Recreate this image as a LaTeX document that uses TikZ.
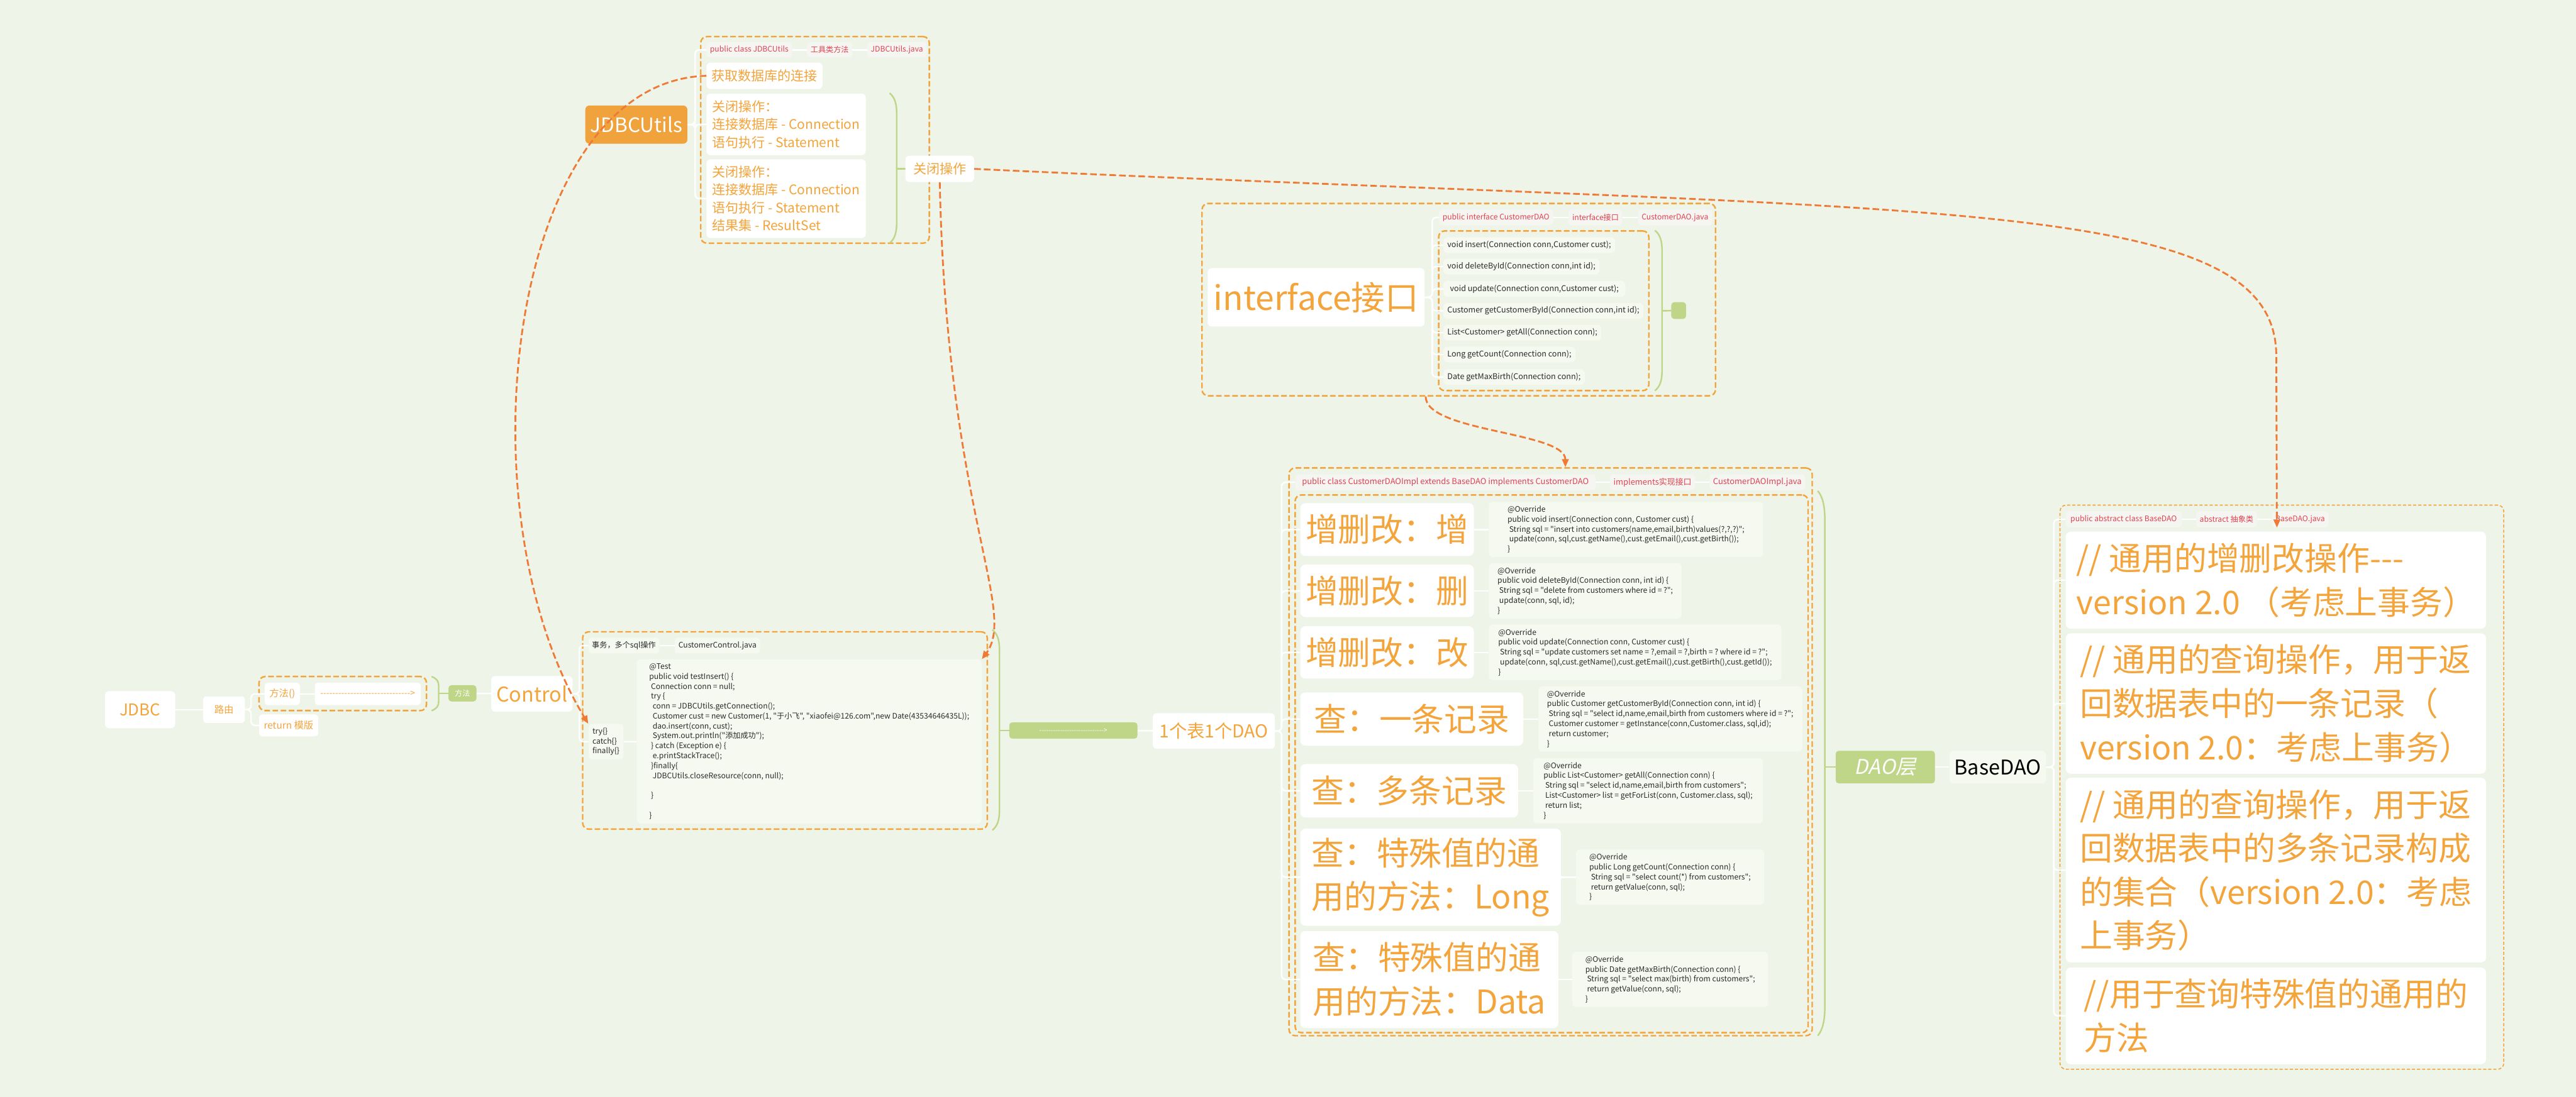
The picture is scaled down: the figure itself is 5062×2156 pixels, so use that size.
\documentclass[tikz,border=0pt]{standalone}
\usepackage{fontspec}
\setmainfont{Noto Sans CJK SC}
\setmonofont{Noto Sans CJK SC}
\newfontfamily\slantfont[FakeSlant=0.2]{Noto Sans CJK SC}
\usepackage{xcolor}
\usepackage{tikz}
\usetikzlibrary{arrows.meta,positioning,fit,backgrounds}

\definecolor{bgcol}{HTML}{EEF4E8}
\definecolor{orangetxt}{HTML}{F3A43B}
\definecolor{orangebox}{HTML}{F0A23C}
\definecolor{relcol}{HTML}{EE7A35}
\definecolor{greencol}{HTML}{BFD587}
\definecolor{labelred}{HTML}{E0424F}
\definecolor{labelfill}{HTML}{F5F5F2}
\definecolor{codefill}{HTML}{F5F9EF}
\definecolor{codetxt}{HTML}{2B2B2B}

\newcommand\fsz[2]{\fontsize{#1}{#2}\selectfont}
\newcommand\dashtxt[1]{\foreach \k in {1,...,#1}{-\kern0pt}>}
\newcommand\sumbracket[4]{%
  \draw[summ] (#1,#2) .. controls (#1+10,#2+0.2*#4) and (#1+14,#2+0.5*#4) .. (#1+14,#2+#4)
    -- (#1+14,#3-#4) .. controls (#1+14,#3-0.5*#4) and (#1+10,#3-0.2*#4) .. (#1,#3);}

\begin{document}
\begin{tikzpicture}[x=1pt, y=-1pt,
  sz/.style 2 args={minimum width=#1pt, minimum height=#2pt},
  topic/.style={anchor=west, align=left, rounded corners=8pt, inner xsep=10pt, inner ysep=3pt, fill=white, text=orangetxt},
  big/.style={topic, font=\fsz{64}{86}, rounded corners=10pt},
  mid/.style={topic, font=\fsz{26}{35}},
  small/.style={topic, font=\fsz{19}{24}, rounded corners=6pt, inner xsep=6pt},
  lbl/.style={topic, fill=labelfill, text=labelred, font=\fsz{15}{19}, rounded corners=6pt, inner xsep=7pt},
  code/.style={topic, fill=codefill, text=codetxt, font=\ttfamily\fsz{15}{19.5}, inner xsep=8pt},
  gtopic/.style={topic, fill=greencol, text=white, rounded corners=6pt},
  grp/.style={draw=orangetxt, line width=3pt, dash pattern=on 11pt off 5pt, rounded corners=12pt, inner sep=0pt},
  br/.style={draw=white, line width=3pt, rounded corners=8pt},
  summ/.style={draw=greencol, line width=3pt},
  rel/.style={draw=relcol, line width=3.5pt, dash pattern=on 13pt off 6pt, -{Triangle[length=16pt,width=13pt]}}
]
\useasboundingbox (0,0) rectangle (5062,2156);

% JDBCUtils
\node[topic, fill=orangebox, text=white, font=\fsz{39}{44}, sz={199}{75}] (jdbcu) at (1150,245) {JDBCUtils};
\node[lbl, sz={167}{30}] (jlab1) at (1388,98) {public class JDBCUtils};
\node[lbl, right=29pt of jlab1, sz={88}{30}] (jlab2) {工具类方法};
\node[lbl, right=29pt of jlab2, sz={114}{30}] (jlab3) {JDBCUtils.java};
\node[mid, sz={225}{52}] (jconn) at (1388,149) {获取数据库的连接};
\node[mid, sz={313}{121}] (jclose1) at (1388,244.5) {关闭操作：\\连接数据库 - Connection\\语句执行 - Statement};
\node[mid, sz={313}{155}] (jclose2) at (1388,390.5) {关闭操作：\\连接数据库 - Connection\\语句执行 - Statement\\结果集 - ResultSet};
\node[mid, sz={135}{52}] (jshut) at (1779,332) {关闭操作};

% JDBC / Control
\node[topic, font=\fsz{32}{38}, sz={138}{73}] (jdbc) at (206,1395) {JDBC};
\node[small, sz={82}{52}] (route) at (399,1395) {路由};
\node[small, sz={69}{44}] (meth) at (520,1364) {方法()};
\node[small, font=\fsz{17}{20}, right=29pt of meth, sz={208}{44}] (marr) {\dashtxt{30}};
\node[small, sz={116}{43}] (ret) at (509,1426) {return 模版};
\node[gtopic, font=\fsz{15}{18}, inner xsep=6pt, sz={55}{32}] (mgreen) at (881,1363) {方法};
\node[topic, font=\fsz{40}{46}, sz={152}{70}] (ctrl) at (965,1364) {Control};
\node[lbl, fill=codefill, text=codetxt, sz={137}{31}] (clab1) at (1156,1269) {事务，多个sql操作};
\node[lbl, fill=codefill, text=codetxt, right=30pt of clab1, sz={166}{31}] (clab2) {CustomerControl.java};
\node[code, font=\ttfamily\fsz{15}{19}, sz={65}{70}] (ctry) at (1156,1458) {try\{\}\\catch\{\}\\finally\{\}};
\node[code, sz={678}{323}] (ccode) at (1251,1457.5) {@Test\\public void testInsert() \{\\\ Connection conn = null;\\\ try \{\\\ \ conn = JDBCUtils.getConnection();\\\ \ Customer cust = new Customer(1, "于小飞", "xiaofei@126.com",new Date(43534646435L));\\\ \ dao.insert(conn, cust);\\\ \ System.out.println("添加成功");\\\ \} catch (Exception e) \{\\\ \ e.printStackTrace();\\\ \}finally\{\\\ \ JDBCUtils.closeResource(conn, null);\\~\\\ \}\\~\\\}};
\node[gtopic, font=\fsz{13}{16}, sz={252}{32}] (darr) at (1983,1436) {\dashtxt{28}};
\node[topic, font=\fsz{35}{40}, sz={240}{70}] (onedao) at (2265,1437) {1个表1个DAO};

% interface
\node[topic, font=\fsz{66}{72}, sz={426}{115}] (ibox) at (2373,584.5) {interface接口};
\node[lbl, sz={225}{31}] (ilab1) at (2827,427.5) {public interface CustomerDAO};
\node[lbl, right=30pt of ilab1, sz={104}{31}] (ilab2) {interface接口};
\node[lbl, right=30pt of ilab2, sz={146}{31}] (ilab3) {CustomerDAO.java};
\foreach \y/\w/\t [count=\i] in {482/327/{void insert(Connection conn,Customer cust);},
    524/294/{void deleteById(Connection conn,int id);},
    568/358/{void update(Connection conn,Customer cust);},
    611/393/{Customer getCustomerById(Connection conn,int id);},
    654/303/{List<Customer> getAll(Connection conn);},
    697/252/{Long getCount(Connection conn);},
    741/269/{Date getMaxBirth(Connection conn);}}
  \node[code, font=\ttfamily\fsz{15.5}{19}, sz={\w}{31}] (m\i) at (2836,\y) {\t};
\node[gtopic, sz={29}{33}] (igreen) at (3284,610.5) {};

% CustomerDAOImpl
\node[lbl, font=\fsz{16}{20}, sz={590}{31}] (dlab1) at (2545,948) {public class CustomerDAOImpl extends BaseDAO implements CustomerDAO};
\node[lbl, font=\fsz{16}{20}, right=28pt of dlab1, sz={148}{31}] (dlab2) {implements实现接口};
\node[lbl, font=\fsz{16}{20}, right=28pt of dlab2, sz={168}{31}] (dlab3) {CustomerDAOImpl.java};
\node[big, sz={341}{104}] (b1) at (2555,1041) {增删改：增};
\node[big, sz={341}{103}] (b2) at (2555,1161.5) {增删改：删};
\node[big, sz={341}{103}] (b3) at (2555,1282.5) {增删改：改};
\node[big, sz={438}{105}] (b4) at (2555,1413.5) {查：一条记录};
\node[big, sz={428}{105}] (b5) at (2555,1554.5) {查：多条记录};
\node[big, sz={512}{191}] (b6) at (2555,1724.5) {查：特殊值的通\\用的方法：Long};
\node[big, sz={507}{191}] (b7) at (2555,1925.5) {查：特殊值的通\\用的方法：Data};
\node[code, right=29pt of b1, sz={539}{109}] (k1) {@Override\\public void insert(Connection conn, Customer cust) \{\\\ String sql = "insert into customers(name,email,birth)values(?,?,?)";\\\ update(conn, sql,cust.getName(),cust.getEmail(),cust.getBirth());\\\}};
\node[code, right=29pt of b2, sz={379}{109}] (k2) {@Override\\public void deleteById(Connection conn, int id) \{\\\ String sql = "delete from customers where id = ?";\\\ update(conn, sql, id);\\\}};
\node[code, right=29pt of b3, sz={575}{110}] (k3) {@Override\\public void update(Connection conn, Customer cust) \{\\\ String sql = "update customers set name = ?,email = ?,birth = ? where id = ?";\\\ update(conn, sql,cust.getName(),cust.getEmail(),cust.getBirth(),cust.getId());\\\}};
\node[code, right=29pt of b4, sz={519}{128}] (k4) {@Override\\public Customer getCustomerById(Connection conn, int id) \{\\\ String sql = "select id,name,email,birth from customers where id = ?";\\\ Customer customer = getInstance(conn,Customer.class, sql,id);\\\ return customer;\\\}};
\node[code, right=29pt of b5, sz={452}{128}] (k5) {@Override\\public List<Customer> getAll(Connection conn) \{\\\ String sql = "select id,name,email,birth from customers";\\\ List<Customer> list = getForList(conn, Customer.class, sql);\\\ return list;\\\}};
\node[code, right=29pt of b6, sz={370}{109}] (k6) {@Override\\public Long getCount(Connection conn) \{\\\ String sql = "select count(*) from customers";\\\ return getValue(conn, sql);\\\}};
\node[code, right=27pt of b7, sz={385}{109}] (k7) {@Override\\public Date getMaxBirth(Connection conn) \{\\\ String sql = "select max(birth) from customers";\\\ return getValue(conn, sql);\\\}};
\node[gtopic, font=\slantfont\fsz{40}{46}, sz={195}{64}] (daol) at (3607,1508) {DAO层};
\node[code, text=black, font=\fsz{40}{46}, right=28pt of daol, sz={190}{64}] (base) {BaseDAO};

% BaseDAO
\node[lbl, sz={228}{32}] (blab1) at (4059,1021) {public abstract class BaseDAO};
\node[lbl, right=28pt of blab1, sz={119}{32}] (blab2) {abstract 抽象类};
\node[lbl, right=29pt of blab2, sz={110}{32}] (blab3) {BaseDAO.java};
\node[big, sz={826}{191}] (g1) at (4059,1140.5) {// 通用的增删改操作-{}-{}-\\version 2.0 （考虑上事务）};
\node[big, sz={826}{276}] (g2) at (4059,1383) {// 通用的查询操作，用于返\\回数据表中的一条记录（\\version 2.0：考虑上事务）};
\node[big, sz={826}{363}] (g3) at (4059,1710.5) {// 通用的查询操作，用于返\\回数据表中的多条记录构成\\的集合（version 2.0：考虑\\上事务）};
\node[big, sz={826}{190}] (g4) at (4059,1997) {//用于查询特殊值的通用的\\方法};

\begin{scope}[on background layer]
  \fill[bgcol] (0,0) rectangle (5062,2156);
  \node[grp, fit={(1377,72) (1826,478)}] (jgrp) {};
  \node[grp, fit={(509,1330) (838,1397)}] (mgrp) {};
  \node[grp, fit={(1145,1242) (1940,1630)}] (cgrp) {};
  \node[grp, fit={(2362,400) (3371,778)}] (igrp) {};
  \node[grp, fit={(2827,454) (3240,768)}] (imgrp) {};
  \node[grp, fit={(2533,920) (3561,2036)}] (dgrp) {};
  \node[grp, fit={(2545,973) (3553,2030)}] (dkgrp) {};
  \node[grp, line width=2pt, dash pattern=on 6pt off 4pt, fit={(4048,993) (4920,2102)}] (bgrp) {};

  \foreach \c in {jlab1,jconn,jclose1,jclose2} \draw[br] (jdbcu.east) -- ++(15,0) |- (\c.west);
  \draw[br] (jlab1) -- (jlab2);
  \draw[br] (jlab2) -- (jlab3);
  \draw[br] (jdbc) -- (route);
  \foreach \c in {meth,ret} \draw[br] (route.east) -- ++(12,0) |- (\c.west);
  \draw[br] (meth) -- (marr);
  \draw[br] (mgreen) -- (ctrl);
  \foreach \c in {clab1,ctry} \draw[br] (ctrl.east) -- ++(13,0) |- (\c.west);
  \draw[br] (clab1) -- (clab2);
  \draw[br] (ctry) -- (ccode);
  \draw[br] (darr) -- (onedao);
  \foreach \c in {ilab1,m1,m2,m3,m4,m5,m6,m7} \draw[br] (ibox.east) -- ++(15,0) |- (\c.west);
  \draw[br] (ilab1) -- (ilab2);
  \draw[br] (ilab2) -- (ilab3);
  \foreach \c in {dlab1,b1,b2,b3,b4,b5,b6,b7} \draw[br] (onedao.east) -- ++(13,0) |- (\c.west);
  \draw[br] (dlab1) -- (dlab2);
  \draw[br] (dlab2) -- (dlab3);
  \foreach \b/\k in {b1/k1,b2/k2,b3/k3,b4/k4,b5/k5,b6/k6,b7/k7} \draw[br] (\b) -- (\k);
  \draw[br] (daol) -- (base);
  \foreach \c in {blab1,g1,g2,g3,g4} \draw[br] (base.east) -- ++(15,0) |- (\c.west);
  \draw[br] (blab1) -- (blab2);
  \draw[br] (blab2) -- (blab3);

  \sumbracket{1748}{183}{478}{40}
  \sumbracket{848}{1330}{1397}{18}
  \sumbracket{1950}{1238}{1632}{40}
  \sumbracket{3252}{453}{768}{40}
  \sumbracket{3572}{965}{2036}{60}
  \coordinate (jsum) at (1762,332);
  \coordinate (msum) at (862,1363);
  \coordinate (csum) at (1964,1436);
  \coordinate (isum) at (3266,611);
  \coordinate (dsum) at (3586,1508);
  \draw[summ] (jsum) -- (jshut);
  \draw[summ] (msum) -- (mgreen);
  \draw[summ] (csum) -- (darr);
  \draw[summ] (isum) -- (igreen);
  \draw[summ] (dsum) -- (daol);
\end{scope}

\coordinate (bt) at ([xshift=10pt]blab3.south west);
\draw[rel] (jconn.west) .. controls (1000,160) and (900,1000) .. (ctry.north west);
\draw[rel] (jshut.south) .. controls (1860,1000) and (2000,1200) .. (ccode.north east);
\draw[rel] (jshut.east) .. controls (3800,420) and (4473,380) .. (4473,700) -- (bt);
\draw[rel] ([xshift=-65pt]igrp.south) .. controls +(0,70) and +(0,-70) .. ([xshift=29pt]dgrp.north);
\end{tikzpicture}
\end{document}
